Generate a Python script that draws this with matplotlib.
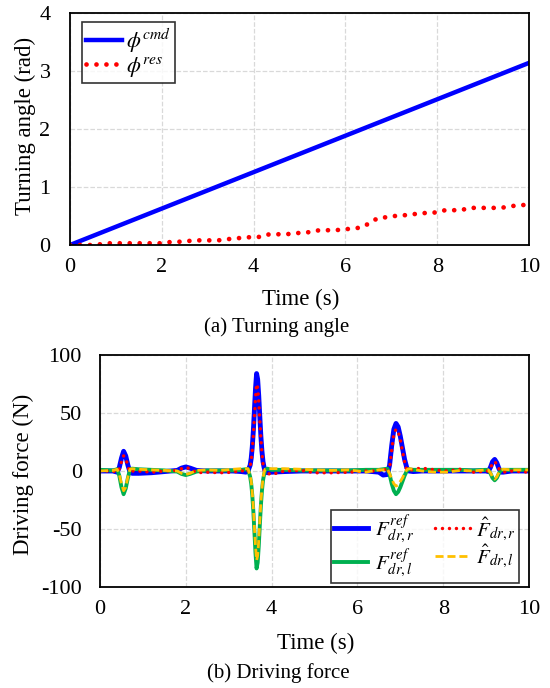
import matplotlib
matplotlib.use("Agg")
import matplotlib.pyplot as plt

plt.rcParams['font.family'] = ['Liberation Serif', 'DejaVu Serif']
plt.rcParams['mathtext.fontset'] = 'stix'
plt.rcParams['axes.unicode_minus'] = False

# (a) turning angle, rad
time_cmd = [0.0, 10.0]
phi_cmd = [0.0, 3.14]

time_res = [0.0, 0.5, 0.87, 1.96, 2.18, 2.5, 2.69, 3.23, 3.41, 3.6, 3.78, 4.14, 4.28, 4.79,
            5.01, 5.19, 5.37, 5.88, 6.1, 6.25, 6.43, 6.57, 6.74, 6.93, 7.08, 7.26, 7.44,
            7.63, 7.81, 7.99, 8.17, 8.53, 8.68, 9.4, 9.59, 9.77, 10.0]
phi_res = [0.0, 0.0, 0.03, 0.03, 0.05, 0.06, 0.08, 0.08, 0.1, 0.11, 0.13, 0.14, 0.18, 0.19,
           0.21, 0.22, 0.25, 0.26, 0.28, 0.29, 0.33, 0.41, 0.47, 0.48, 0.5, 0.51, 0.53,
           0.54, 0.56, 0.56, 0.6, 0.6, 0.64, 0.64, 0.67, 0.68, 0.7]

# (b) driving force, N
time_f = [0.0, 0.3, 0.4, 0.45, 0.5, 0.55, 0.6, 0.65, 0.7, 0.75, 0.9, 1.2,
          1.5, 1.8, 1.9, 2.0, 2.1, 2.25, 2.5,
          2.8, 3.1, 3.3, 3.4,
          3.45, 3.5, 3.525, 3.55, 3.575, 3.6, 3.625, 3.65, 3.675, 3.7, 3.725, 3.75, 3.775, 3.8, 3.825, 3.85, 3.9,
          4.0, 4.3, 4.7, 5.0, 5.4, 5.8, 6.2,
          6.5, 6.6, 6.7, 6.75, 6.8, 6.85, 6.9, 6.95, 7.0, 7.05, 7.1, 7.15, 7.2, 7.3,
          7.5, 7.8, 8.1, 8.4, 8.7, 9.0,
          9.05, 9.1, 9.15, 9.2, 9.25, 9.3, 9.35, 9.4, 9.6, 10.0]

f_ref_r = [0, 0, -1, 3, 11, 17, 13, 5, -1, -2, -2, -1.5,
           -0.5, 0.5, 2.5, 3.5, 2.5, 0.5, 0,
           0, 0, -0.5, -1,
           0, 5, 11, 21, 35, 53, 71, 84, 79, 65, 47, 30, 17, 8, 3, 0, -1.5,
           -1, -0.5, 0, 0, 0, 0, 0,
           -1, -3.5, -3, 5, 22, 36, 41, 38, 30, 20, 10, 3, 0, -0.5,
           0, 0, 0, 0, 0, 0,
           -0.5, 3, 8, 10, 7, 2, -1, -1, 0, 0]

f_ref_l = [1, 0.5, 1.5, -4, -14, -20, -15, -6, 1.5, 2, 1.5, 1,
           0.5, -0.5, -2.5, -3.5, -2.5, -0.5, 0.5,
           0.5, 0.5, 1, 1.5,
           1.5, -5, -11, -21, -35, -53, -71, -84, -79, -65, -47, -30, -17, -8, -3, 1, 2,
           1, 1, 0.5, 0.5, 0.5, 0.5, 1,
           1, 1.5, 2, -3, -11, -17, -20, -18, -14, -9, -4, 0, 1.5, 1,
           1, 1, 1, 1, 0.5, 1,
           0.5, -2, -6, -8, -6, -2, 1, 1, 1, 1]

f_hat_r = [0, 0, -1, 2, 8, 13, 11, 4, -1, 0, 0, -1,
           0, 0.5, 2, 3, 2, -1.5, -1,
           -1.5, -1, 0.5, -1.5,
           0, 4, 9, 18, 31, 47, 63, 75, 72, 60, 44, 28, 15, 6, 1, -2, -2,
           -3, 0, 0.5, -1.5, -1.5, -1, 0,
           0, 3, -2, 2, 18, 32, 36, 34, 27, 17, 8, 1, 0, 1.5,
           2.5, 1, 0, 1.5, -1, 0,
           0, 2, 7, 8, 6, 2, 0, -1, 0, -1]

f_hat_l = [0, 0.5, 1.5, -3, -11, -17, -14, -5, 1.5, 2, 1.5, 1,
           0.5, 0, -2, -3, -2, 0.5, 1,
           0.5, 1.5, 2, 2,
           2, -4, -9, -19, -32, -49, -65, -77, -73, -60, -43, -27, -15, -6, -1, 1.5, 2,
           2, 2, 1.5, 1, 0.5, 1, -1,
           1, 1, 1.5, -2, -7, -11, -13, -12, -9, -6, -2, 1, 2, 1.5,
           0, -1, -1, 0.5, 0, 1,
           1, -1.5, -5, -7, -5, -1, 1, 1.5, 1, 1]

fig = plt.figure(figsize=(5.5, 6.88), dpi=100)
ax1 = fig.add_axes([70 / 550, 1 - 245 / 688, 459 / 550, 232 / 688])
ax2 = fig.add_axes([100 / 550, 1 - 587 / 688, 429 / 550, 232 / 688])

for ax in (ax1, ax2):
    ax.grid(True, color='#d9d9d9', linestyle='--', linewidth=0.9)
    ax.set_axisbelow(True)
    ax.tick_params(length=0, labelsize=16)
    ax.tick_params(axis='x', pad=9)
    for sp in ax.spines.values():
        sp.set_linewidth(1.3)
    ax.set_xlim(0, 10)
    ax.set_xticks([0, 2, 4, 6, 8, 10])

ax1.tick_params(axis='y', pad=14)
ax2.tick_params(axis='y', pad=13)

# top: turning angle
ax1.plot(time_cmd, phi_cmd, color='#0000ff', linewidth=3.2, label=r'$\phi^{cmd}$')
ax1.plot(time_res, phi_res, color='#ff0000', linewidth=3.4, linestyle=(0, (0.01, 2.1)),
         dash_capstyle='round', label=r'$\phi^{res}$')
ax1.set_ylim(0, 4)
ax1.set_yticks([0, 1, 2, 3, 4])
leg1 = ax1.legend(loc='upper left', bbox_to_anchor=(0.0255, 0.961), fontsize=16, handlelength=1.6,
                  frameon=True, fancybox=False, borderpad=0.2, labelspacing=0.0, handletextpad=0.2,
                  borderaxespad=0)
leg1.get_frame().set_edgecolor('black')
leg1.get_frame().set_linewidth(1.2)

# bottom: driving force
ax2.plot(time_f, f_ref_r, color='#0000ff', linewidth=3.5, label=r'$F_{dr,r}^{ref}$')
ax2.plot(time_f, f_ref_l, color='#00b050', linewidth=2.8, label=r'$F_{dr,l}^{ref}$')
ax2.plot(time_f, f_hat_r, color='#ff0000', linewidth=2.5, linestyle=(0, (0.01, 2.0)),
         dash_capstyle='round', label=r'$\hat{F}_{dr,r}$')
ax2.plot(time_f, f_hat_l, color='#ffc000', linewidth=2.0, linestyle=(0, (2.9, 1.4)),
         label=r'$\hat{F}_{dr,l}$')
ax2.set_ylim(-100, 100)
ax2.set_yticks([-100, -50, 0, 50, 100])
leg2 = ax2.legend(loc='lower right', bbox_to_anchor=(0.977, 0.017), ncol=2, fontsize=15,
                  handlelength=1.67, frameon=True, fancybox=False, borderpad=0.15,
                  labelspacing=0.0, handletextpad=0.3, columnspacing=1.0, borderaxespad=0)
leg2.get_frame().set_edgecolor('black')
leg2.get_frame().set_linewidth(1.2)

# labels and captions
fig.text(25 / 550, 1 - 126 / 688, 'Turning angle (rad)', rotation=90, ha='center', va='center', fontsize=16.5)
fig.text(23 / 550, 1 - 474 / 688, 'Driving force (N)', rotation=90, ha='center', va='center', fontsize=16.5)
fig.text(301 / 550, 1 - 299 / 688, 'Time (s)', ha='center', va='center', fontsize=16.5)
fig.text(277 / 550, 1 - 327 / 688, '(a) Turning angle', ha='center', va='center', fontsize=15)
fig.text(316 / 550, 1 - 643 / 688, 'Time (s)', ha='center', va='center', fontsize=16.5)
fig.text(278 / 550, 1 - 673 / 688, '(b) Driving force', ha='center', va='center', fontsize=15)

fig.savefig('out.png', dpi=100)
